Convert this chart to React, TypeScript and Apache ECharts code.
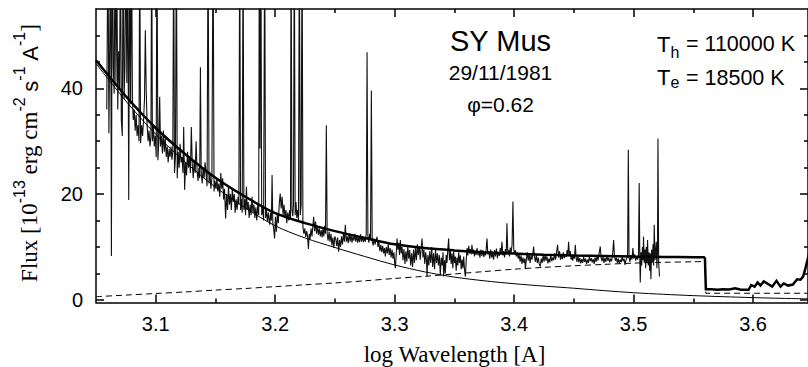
import React, { useEffect, useRef } from "react";
import * as echarts from "echarts";

// ---- axis ranges & ticks ----
const X_MIN = 3.05;
const X_MAX = 3.646;
const Y_MIN = -0.5;
const Y_MAX = 55;
const xMajorTicks = [3.1, 3.2, 3.3, 3.4, 3.5, 3.6];
const xMinorTicks = [3.15, 3.25, 3.35, 3.45, 3.55];
const yMajorTicks = [0, 20, 40];
const yMinorTicks = [5, 10, 15, 25, 30, 35, 45, 50];

// ---- model curves (log lambda grid) ----
const modelLogLambda = [3.05, 3.075, 3.1, 3.125, 3.15, 3.175, 3.2, 3.225, 3.25, 3.275, 3.3, 3.325, 3.35, 3.375, 3.4, 3.425, 3.45, 3.475, 3.5, 3.525, 3.55, 3.5597];
const totalFlux = [45.3, 38.5, 32.5, 27.5, 23.1, 19.5, 16.4, 14.5, 13.0, 11.7, 10.5, 9.8, 9.35, 9.0, 8.75, 8.55, 8.4, 8.3, 8.2, 8.12, 8.06, 8.05];
const coolFlux = [0.6, 0.9, 1.2, 1.5, 1.85, 2.15, 2.5, 2.85, 3.2, 3.6, 4.05, 4.45, 4.9, 5.35, 5.8, 6.15, 6.45, 6.7, 6.95, 7.1, 7.2, 7.25];

const hotLogLambda = [3.05, 3.075, 3.1, 3.125, 3.15, 3.175, 3.2, 3.225, 3.25, 3.275, 3.3, 3.325, 3.35, 3.375, 3.4, 3.425, 3.45, 3.475, 3.5, 3.525, 3.55, 3.575, 3.6, 3.625, 3.65];
const hotFlux = [44.7, 37.6, 31.3, 26.0, 21.3, 17.4, 14.0, 11.7, 9.9, 8.2, 6.6, 5.3, 4.3, 3.6, 3.05, 2.6, 2.2, 1.75, 1.35, 1.05, 0.8, 0.6, 0.42, 0.28, 0.18];

// beyond the Balmer jump
const totalTail = [
  [3.5597, 8.05], [3.5605, 2.0], [3.565, 2.0], [3.57, 1.9], [3.575, 2.0], [3.58, 1.95], [3.585, 2.2], [3.59, 1.9],
  [3.5962, 1.9], [3.5985, 2.8], [3.6013, 2.5], [3.6038, 3.3], [3.6062, 2.7], [3.609, 3.5], [3.6126, 3.0], [3.616, 2.5],
  [3.6196, 3.6], [3.623, 2.5], [3.6257, 3.1], [3.6293, 2.7], [3.6333, 2.9], [3.6369, 3.9], [3.6397, 3.8], [3.6419, 4.4],
  [3.6439, 6.0], [3.646, 7.9], [3.65, 12],
];
const coolTail = [[3.5597, 7.25], [3.5605, 1.25], [3.65, 1.25]];

// ---- observed IUE spectrum ----
const spectrumA = [
  [3.0590, 36], [3.0600, 70], [3.0608, 31.5], [3.0615, 48], [3.0622, 70], [3.0629, 8.3], [3.0636, 75], [3.0645, 44],
  [3.0652, 39], [3.0660, 70], [3.0667, 41], [3.0674, 65], [3.0682, 36], [3.0690, 47], [3.0697, 40], [3.0705, 70],
  [3.0712, 34], [3.0720, 31], [3.0727, 70], [3.0735, 38], [3.0742, 44], [3.0750, 70], [3.0758, 41], [3.0765, 70],
  [3.0774, 18.9], [3.0782, 70], [3.0790, 37], [3.0797, 70], [3.0805, 38], [3.0812, 34], [3.0820, 36], [3.0828, 32],
  [3.0836, 35], [3.0844, 31], [3.0852, 33], [3.0860, 30], [3.0866, 70], [3.0873, 29.6], [3.0882, 33], [3.0890, 31],
  [3.0898, 34], [3.0906, 38], [3.0913, 51], [3.0920, 40], [3.0928, 33], [3.0936, 30], [3.0944, 32], [3.0952, 29],
  [3.0960, 31], [3.0966, 70], [3.0972, 30], [3.0980, 33], [3.0988, 29], [3.0996, 31], [3.1004, 27], [3.1010, 70],
  [3.1018, 26.4], [3.1026, 30], [3.1033, 38.4], [3.1040, 29], [3.1048, 31], [3.1056, 27.7], [3.1064, 32], [3.1072, 28],
  [3.1080, 30.5], [3.1088, 27], [3.1096, 29], [3.1104, 26], [3.1112, 28.5], [3.1120, 27], [3.1128, 29], [3.1136, 26.5],
  [3.1143, 28], [3.1150, 70], [3.1157, 24], [3.1165, 27], [3.1173, 70], [3.1180, 23], [3.1188, 28], [3.1196, 25],
  [3.1204, 29.5], [3.1212, 26], [3.1220, 27], [3.1228, 24], [3.1234, 32.7], [3.1242, 20.8], [3.1250, 26], [3.1258, 23.5],
  [3.1266, 28], [3.1274, 25], [3.1282, 27], [3.1290, 24], [3.1298, 32.7], [3.1306, 25.5], [3.1314, 23], [3.1322, 26.5],
  [3.1330, 24], [3.1338, 30], [3.1346, 24.5], [3.1354, 22.5], [3.1362, 25], [3.1368, 23], [3.1374, 44], [3.1381, 24],
  [3.1389, 22], [3.1397, 25], [3.1405, 23], [3.1413, 26], [3.1421, 24], [3.1430, 21.5], [3.1438, 70], [3.1446, 22],
  [3.1454, 24], [3.1462, 21], [3.1470, 23], [3.1480, 70], [3.1488, 20.5], [3.1496, 22.5],
];
const spectrumB = [
  [3.1504, 21], [3.1512, 23], [3.1520, 20.5], [3.1528, 22], [3.1536, 19.5], [3.1545, 24], [3.1552, 21], [3.1560, 23],
  [3.1568, 19], [3.1576, 21], [3.1585, 15.4], [3.1593, 20], [3.1601, 17], [3.1609, 21.5], [3.1617, 18], [3.1625, 20],
  [3.1633, 17], [3.1641, 21], [3.1649, 18.5], [3.1657, 20], [3.1665, 16.5], [3.1673, 19], [3.1681, 17], [3.1689, 19.5],
  [3.1696, 18], [3.1703, 70], [3.1710, 17], [3.1717, 19], [3.1724, 16.5], [3.1731, 70], [3.1738, 17], [3.1745, 19],
  [3.1752, 16], [3.1759, 21.4], [3.1766, 17], [3.1774, 18.5], [3.1782, 15.5], [3.1790, 18], [3.1798, 16], [3.1806, 19.5],
  [3.1814, 16.5], [3.1822, 18], [3.1830, 15.5], [3.1838, 17.5], [3.1846, 15], [3.1854, 18], [3.1862, 16], [3.1867, 70],
  [3.1873, 28.6], [3.1880, 70], [3.1887, 16], [3.1895, 17.5], [3.1903, 15], [3.1912, 70], [3.1919, 15.5], [3.1927, 17],
  [3.1935, 14.8], [3.1943, 16.5], [3.1950, 15], [3.1954, 14.2], [3.1962, 16.5], [3.1968, 15], [3.1974, 23.6], [3.1980, 14.5],
  [3.1987, 13.5], [3.1995, 11.6], [3.2002, 15.7], [3.2010, 12.9], [3.2018, 16.4], [3.2026, 14.5], [3.2034, 18.2], [3.2042, 20.1],
  [3.2050, 17.3], [3.2058, 19.5], [3.2066, 16], [3.2074, 18], [3.2082, 15.5], [3.2090, 17], [3.2097, 14.5], [3.2105, 16.5],
  [3.2113, 15], [3.2121, 17], [3.2128, 15.5], [3.2133, 70], [3.2140, 17], [3.2147, 15.8], [3.2153, 18], [3.2160, 70],
  [3.2167, 16], [3.2174, 18.5], [3.2181, 15.5], [3.2188, 17], [3.2195, 15], [3.2202, 70], [3.2210, 16], [3.2217, 18],
  [3.2225, 70], [3.2232, 13.8], [3.2240, 12.5], [3.2248, 13.5], [3.2256, 11.9], [3.2264, 13], [3.2271, 12], [3.2278, 9.6],
  [3.2285, 12.5], [3.2292, 11.5], [3.2300, 13.5], [3.2308, 12], [3.2315, 13.8], [3.2322, 15.7], [3.2330, 13], [3.2338, 14.8],
  [3.2346, 12.5], [3.2354, 14], [3.2362, 12.3], [3.2370, 13.5], [3.2378, 12], [3.2386, 13.2], [3.2393, 11.8], [3.2400, 13.5],
  [3.2407, 12], [3.2414, 14], [3.2421, 12.5], [3.2428, 33], [3.2435, 12.5], [3.2443, 11.2], [3.2451, 12.9], [3.2459, 11],
  [3.2467, 12.5], [3.2475, 10.3], [3.2483, 11.8], [3.2491, 9.8], [3.2499, 12], [3.2507, 11.5], [3.2515, 10.2], [3.2523, 11.8],
  [3.2531, 9.1], [3.2539, 11.3], [3.2547, 10], [3.2555, 12], [3.2563, 10.5], [3.2571, 12.5], [3.2579, 11], [3.2587, 14.2],
  [3.2595, 11], [3.2603, 12], [3.2611, 10.7], [3.2619, 12.6], [3.2627, 11], [3.2635, 12.3], [3.2643, 10.8], [3.2651, 12],
  [3.2659, 11.2], [3.2667, 12.5], [3.2675, 11], [3.2683, 12.2], [3.2691, 10.8], [3.2699, 11.8], [3.2707, 10.9], [3.2715, 12.4],
  [3.2723, 11], [3.2731, 12], [3.2739, 10.9], [3.2747, 11.7], [3.2755, 11], [3.2762, 12.5], [3.2769, 46.8], [3.2776, 12],
  [3.2784, 10.8], [3.2791, 12.5], [3.2798, 11.5], [3.2805, 39.6], [3.2812, 11], [3.2820, 10.3], [3.2828, 11.6], [3.2836, 10.5],
  [3.2844, 11.2], [3.2852, 11.9], [3.2860, 10], [3.2868, 11], [3.2876, 9.2], [3.2884, 10.4], [3.2892, 9], [3.2900, 10.2],
  [3.2908, 8.8], [3.2915, 9.8], [3.2922, 8.2], [3.2930, 10], [3.2938, 8.8], [3.2946, 10.5], [3.2954, 8.5], [3.2962, 9.8],
  [3.2970, 8], [3.2978, 9.5], [3.2986, 7.8], [3.2994, 9],
];
const spectrumC = [
  [3.3000, 7], [3.3006, 6.0], [3.3013, 8.5], [3.3020, 11.6], [3.3027, 9.5], [3.3034, 10.8], [3.3041, 8.5], [3.3048, 11.3],
  [3.3055, 8.8], [3.3062, 10], [3.3070, 7.5], [3.3078, 9.6], [3.3086, 6.8], [3.3094, 9.2], [3.3102, 7.2], [3.3110, 10.2],
  [3.3118, 7.8], [3.3126, 9.4], [3.3134, 6.5], [3.3142, 8.8], [3.3150, 6.2], [3.3158, 9.5], [3.3166, 7], [3.3174, 9.8],
  [3.3182, 7.5], [3.3190, 10.5], [3.3198, 8.5], [3.3206, 10.2], [3.3214, 7.6], [3.3222, 9.8], [3.3229, 11.6], [3.3237, 8],
  [3.3245, 9.5], [3.3252, 6.8], [3.3260, 9], [3.3267, 7.2], [3.3271, 4.4], [3.3278, 8.5], [3.3286, 6.5], [3.3294, 9.2],
  [3.3302, 7], [3.3310, 10], [3.3318, 6.2], [3.3326, 8.8], [3.3334, 5.8], [3.3342, 9.5], [3.3350, 7], [3.3358, 8.8],
  [3.3366, 6.5], [3.3374, 8.5], [3.3382, 4.7], [3.3390, 8], [3.3398, 6.5], [3.3405, 9], [3.3410, 4.4], [3.3418, 7.5],
  [3.3424, 5], [3.3431, 8.5], [3.3438, 7], [3.3445, 9.5], [3.3452, 11.6], [3.3459, 7.5], [3.3466, 9.6], [3.3473, 6.8],
  [3.3480, 8.8], [3.3487, 6], [3.3494, 9.2], [3.3501, 7], [3.3508, 8.2], [3.3515, 5.5], [3.3522, 8], [3.3529, 6.5],
  [3.3536, 9], [3.3543, 7], [3.3550, 8.4], [3.3557, 5.8], [3.3564, 7.6], [3.3571, 6], [3.3578, 8.2], [3.3585, 5.6],
  [3.3592, 4.4], [3.3599, 7.5], [3.3606, 9.8], [3.3613, 8.4], [3.3620, 10.2], [3.3627, 8.8], [3.3634, 9.6], [3.3641, 8.6],
  [3.3647, 10.4], [3.3654, 8.7], [3.3661, 9.5], [3.3668, 8.2], [3.3675, 9.3], [3.3682, 8.5], [3.3690, 9.8], [3.3698, 8.4],
  [3.3706, 9.2], [3.3714, 8], [3.3722, 9.5], [3.3730, 8.3], [3.3738, 9.4], [3.3746, 8.1], [3.3754, 9], [3.3762, 8.4],
  [3.3773, 11.6], [3.3780, 8.6], [3.3788, 9.2], [3.3796, 7.8], [3.3804, 9.5], [3.3812, 8], [3.3820, 8.8], [3.3828, 7.6],
  [3.3836, 9.4], [3.3844, 8.2], [3.3852, 9.7], [3.3860, 7.9], [3.3868, 9], [3.3876, 8.3], [3.3884, 9.8], [3.3891, 8.5],
  [3.3898, 11.0], [3.3906, 8.4], [3.3913, 9.2], [3.3920, 8], [3.3927, 9.6], [3.3934, 8.6], [3.3940, 14.5], [3.3947, 8.8],
  [3.3954, 9.4], [3.3961, 8.2], [3.3968, 9.9], [3.3975, 8.9], [3.3983, 10.5], [3.3990, 18.6], [3.3997, 9.5],
];
const spectrumD = [
  [3.4004, 8.7], [3.4011, 9.4], [3.4018, 8.2], [3.4026, 9], [3.4034, 7.8], [3.4042, 8.6], [3.4050, 7.2], [3.4058, 8.4],
  [3.4066, 6.8], [3.4074, 8], [3.4082, 7], [3.4090, 7.8], [3.4094, 5.8], [3.4102, 7.6], [3.4110, 9], [3.4118, 7.4],
  [3.4126, 8.6], [3.4134, 7], [3.4142, 8.4], [3.4150, 7.6], [3.4157, 8.8], [3.4163, 10.1], [3.4170, 8.2], [3.4178, 7.2],
  [3.4186, 8.5], [3.4194, 7], [3.4202, 8], [3.4210, 6.8], [3.4219, 6.3], [3.4227, 7.8], [3.4235, 7], [3.4243, 8.4],
  [3.4251, 7.2], [3.4259, 8.6], [3.4267, 7.4], [3.4275, 8.2], [3.4283, 6.9], [3.4291, 7.8], [3.4299, 7.1], [3.4307, 8.5],
  [3.4315, 7.3], [3.4323, 8], [3.4331, 7.5], [3.4339, 8.8], [3.4347, 7.6], [3.4355, 9], [3.4364, 10.4], [3.4372, 8],
  [3.4380, 9.2], [3.4388, 7.6], [3.4396, 8.4], [3.4404, 7.7], [3.4412, 9], [3.4420, 7.9], [3.4428, 8.6], [3.4436, 8.1],
  [3.4444, 9.4], [3.4450, 8.5], [3.4456, 11.0], [3.4463, 8.4], [3.4470, 9.2], [3.4477, 7.6], [3.4484, 8.3], [3.4491, 7.4],
  [3.4498, 8.5], [3.4505, 7.8], [3.4512, 10.4], [3.4519, 8], [3.4526, 7.2], [3.4534, 8.3], [3.4542, 7.1], [3.4550, 7.9],
  [3.4558, 6.9], [3.4566, 7.7], [3.4574, 7], [3.4582, 8.1], [3.4590, 7.2], [3.4598, 7.8], [3.4606, 6.8], [3.4614, 7.6],
  [3.4622, 7], [3.4630, 8.2], [3.4638, 7.3], [3.4646, 7.9], [3.4654, 7.1], [3.4662, 7.7], [3.4670, 6.8], [3.4678, 8],
  [3.4686, 7.2], [3.4694, 8.3], [3.4702, 7.4], [3.4710, 8.6], [3.4721, 10.1], [3.4728, 8], [3.4736, 7.3], [3.4744, 8.2],
  [3.4752, 7], [3.4760, 7.9], [3.4768, 7.2], [3.4776, 8.4], [3.4784, 7.4], [3.4792, 8], [3.4800, 7.1], [3.4808, 7.8],
  [3.4816, 7.3], [3.4824, 8.5], [3.4833, 11.3], [3.4840, 8.2], [3.4848, 7.4], [3.4856, 8], [3.4864, 7], [3.4872, 7.8],
  [3.4880, 6.9], [3.4888, 7.6], [3.4896, 7.1], [3.4904, 8.2], [3.4912, 7.3], [3.4920, 7.8], [3.4928, 6.6], [3.4936, 7.5],
  [3.4944, 7.9], [3.4950, 8.6], [3.4956, 28.4], [3.4962, 8], [3.4970, 7.2], [3.4978, 8.4], [3.4986, 7.6], [3.4994, 9.8],
  [3.5002, 7.8], [3.5010, 8.6], [3.5018, 7.4], [3.5026, 8.2], [3.5034, 7.6], [3.5041, 8.5], [3.5047, 22.1], [3.5052, 8],
  [3.5056, 3.3], [3.5062, 9], [3.5068, 6.5], [3.5074, 10], [3.5080, 7.5], [3.5083, 12], [3.5089, 7], [3.5095, 9.5],
  [3.5101, 6], [3.5106, 10], [3.5112, 7], [3.5117, 11.3], [3.5123, 6.5], [3.5129, 9], [3.5135, 5.5], [3.5140, 8.8],
  [3.5145, 3.9], [3.5151, 9.5], [3.5157, 7], [3.5163, 10.5], [3.5168, 6.5], [3.5173, 14.2], [3.5179, 7.5], [3.5184, 9],
  [3.5190, 11], [3.5195, 6], [3.5200, 9], [3.5204, 30.5], [3.5210, 7], [3.5217, 4.4],
];

// y-axis title pieces: text, font kind, superscript flag
const yTitlePieces: [string, string, boolean][] = [
  ["Flux [10", "serif", false],
  ["-13", "sup", true],
  [" erg cm", "serif", false],
  ["-2", "sup", true],
  [" ", "serif", false],
  ["s", "sans", false],
  ["-1", "sup", true],
  [" ", "serif", false],
  ["A", "sans", false],
  ["-1", "sup", true],
  ["]", "serif", false],
];

const SANS = '"Liberation Sans", Arial, Helvetica, sans-serif';
const SERIF = '"Liberation Serif", "Times New Roman", serif';

function zip(xs: number[], ys: number[]) {
  return xs.map((x, i) => [x, ys[i]]);
}

function buildYTitle() {
  const canvas = document.createElement("canvas");
  const ctx = canvas.getContext("2d")!;
  const fonts: Record<string, { fam: string; size: number }> = {
    serif: { fam: SERIF, size: 23 },
    sans: { fam: SANS, size: 22 },
    sup: { fam: SANS, size: 16 },
  };
  const widths = yTitlePieces.map(([t, k]) => {
    ctx.font = `${fonts[k].size}px ${fonts[k].fam}`;
    return ctx.measureText(t).width;
  });
  const total = widths.reduce((a, b) => a + b, 0);
  let pos = -total / 2;
  const children: any[] = [];
  yTitlePieces.forEach(([t, k, sup], i) => {
    const f = fonts[k];
    const baseline = sup ? -12.5 : 0;
    children.push({
      type: "text",
      x: pos,
      y: baseline - 0.34 * f.size,
      style: {
        text: t,
        fontFamily: f.fam,
        fontSize: f.size,
        fill: "#000",
        align: "left",
        verticalAlign: "middle",
      },
    });
    pos += widths[i];
  });
  return {
    type: "group",
    x: 37.7,
    y: 153,
    rotation: Math.PI / 2,
    children,
  };
}

export default function App() {
  const ref = useRef<HTMLDivElement>(null);
  useEffect(() => {
    if (!ref.current) return;
    const chart = echarts.init(ref.current, undefined, { renderer: "svg" });
    const lineStyle = { color: "#000", width: 1.5 };
    const xBase = { type: "value", min: X_MIN, max: X_MAX, splitLine: { show: false } };
    const yBase = { type: "value", min: Y_MIN, max: Y_MAX, splitLine: { show: false } };
    const option: any = {
      animation: false,
      backgroundColor: "#fff",
      grid: { left: 96, right: 0, top: 9, bottom: 64.5, containLabel: false, outerBoundsMode: "none" },
      xAxis: [
        {
          ...xBase,
          position: "bottom",
          axisLine: { show: true, onZero: false, lineStyle },
          axisTick: { show: true, inside: true, length: 8, customValues: xMajorTicks, lineStyle },
          axisLabel: {
            show: true,
            customValues: xMajorTicks,
            formatter: (v: number) => v.toFixed(1),
            fontFamily: SANS,
            fontSize: 20,
            color: "#000",
            margin: 11,
          },
        },
        {
          ...xBase,
          position: "bottom",
          axisLine: { show: false, onZero: false },
          axisTick: { show: true, inside: true, length: 4, customValues: xMinorTicks, lineStyle },
          axisLabel: { show: false },
        },
        {
          ...xBase,
          position: "top",
          axisLine: { show: true, onZero: false, lineStyle },
          axisTick: { show: true, inside: true, length: 8, customValues: xMajorTicks, lineStyle },
          axisLabel: { show: false },
        },
        {
          ...xBase,
          position: "top",
          axisLine: { show: false, onZero: false },
          axisTick: { show: true, inside: true, length: 4, customValues: xMinorTicks, lineStyle },
          axisLabel: { show: false },
        },
      ],
      yAxis: [
        {
          ...yBase,
          position: "left",
          axisLine: { show: true, onZero: false, lineStyle },
          axisTick: { show: true, inside: true, length: 8, customValues: yMajorTicks, lineStyle },
          axisLabel: {
            show: true,
            customValues: yMajorTicks,
            fontFamily: SANS,
            fontSize: 20,
            color: "#000",
            margin: 13,
          },
        },
        {
          ...yBase,
          position: "left",
          axisLine: { show: false, onZero: false },
          axisTick: { show: true, inside: true, length: 4, customValues: yMinorTicks, lineStyle },
          axisLabel: { show: false },
        },
        {
          ...yBase,
          position: "right",
          axisLine: { show: true, onZero: false, lineStyle },
          axisTick: { show: true, inside: true, length: 8, customValues: yMajorTicks, lineStyle },
          axisLabel: { show: false },
        },
        {
          ...yBase,
          position: "right",
          axisLine: { show: false, onZero: false },
          axisTick: { show: true, inside: true, length: 4, customValues: yMinorTicks, lineStyle },
          axisLabel: { show: false },
        },
      ],
      series: [
        {
          name: "observed",
          type: "line",
          data: [...spectrumA, ...spectrumB, ...spectrumC, ...spectrumD],
          symbol: "none",
          clip: true,
          lineStyle: { color: "#111", width: 1.1 },
          silent: true,
        },
        {
          name: "hot",
          type: "line",
          data: zip(hotLogLambda, hotFlux),
          symbol: "none",
          smooth: 0.3,
          clip: true,
          lineStyle: { color: "#000", width: 1 },
          silent: true,
        },
        {
          name: "cool",
          type: "line",
          data: zip(modelLogLambda, coolFlux),
          symbol: "none",
          smooth: 0.3,
          clip: true,
          lineStyle: { color: "#000", width: 1, type: [6, 4] },
          silent: true,
        },
        {
          name: "coolTail",
          type: "line",
          data: coolTail,
          symbol: "none",
          clip: true,
          lineStyle: { color: "#000", width: 1, type: [6, 4] },
          silent: true,
        },
        {
          name: "total",
          type: "line",
          data: zip(modelLogLambda, totalFlux),
          symbol: "none",
          smooth: 0.3,
          clip: true,
          lineStyle: { color: "#000", width: 2.5 },
          silent: true,
        },
        {
          name: "totalTail",
          type: "line",
          data: totalTail,
          symbol: "none",
          clip: true,
          lineStyle: { color: "#000", width: 2.5, join: "miter" },
          silent: true,
        },
      ],
      graphic: [
        {
          type: "text",
          x: 454.5,
          y: 354,
          style: {
            text: "log Wavelength [A]",
            fontFamily: SERIF,
            fontSize: 23,
            fill: "#000",
            align: "center",
            verticalAlign: "middle",
          },
        },
        buildYTitle(),
        {
          type: "text",
          x: 500.5,
          y: 41,
          style: { text: "SY Mus", fontFamily: SANS, fontSize: 29, fill: "#000", align: "center", verticalAlign: "middle" },
        },
        {
          type: "text",
          x: 500.5,
          y: 72.6,
          style: { text: "29/11/1981", fontFamily: SANS, fontSize: 21, fill: "#000", align: "center", verticalAlign: "middle" },
        },
        {
          type: "text",
          x: 500.5,
          y: 104.3,
          style: { text: "\u03C6=0.62", fontFamily: SANS, fontSize: 21, fill: "#000", align: "center", verticalAlign: "middle" },
        },
        {
          type: "text",
          x: 657,
          y: 44.2,
          style: { text: "T", fontFamily: SANS, fontSize: 22, fill: "#000", align: "left", verticalAlign: "middle" },
        },
        {
          type: "text",
          x: 670.5,
          y: 52.7,
          style: { text: "h", fontFamily: SANS, fontSize: 16, fill: "#000", align: "left", verticalAlign: "middle" },
        },
        {
          type: "text",
          x: 686,
          y: 44.2,
          style: { text: "= 110000 K", fontFamily: SANS, fontSize: 21.5, fill: "#000", align: "left", verticalAlign: "middle" },
        },
        {
          type: "text",
          x: 657,
          y: 77.5,
          style: { text: "T", fontFamily: SANS, fontSize: 22, fill: "#000", align: "left", verticalAlign: "middle" },
        },
        {
          type: "text",
          x: 670.5,
          y: 82.7,
          style: { text: "e", fontFamily: SANS, fontSize: 16, fill: "#000", align: "left", verticalAlign: "middle" },
        },
        {
          type: "text",
          x: 686,
          y: 77.5,
          style: { text: "= 18500 K", fontFamily: SANS, fontSize: 21.5, fill: "#000", align: "left", verticalAlign: "middle" },
        },
      ],
    };
    chart.setOption(option);
    return () => {
      chart.dispose();
    };
  }, []);
  return (
    <div
      ref={ref}
      style={{ position: "absolute", left: 0, top: 0, width: 808, height: 367, background: "#fff" }}
    />
  );
}
